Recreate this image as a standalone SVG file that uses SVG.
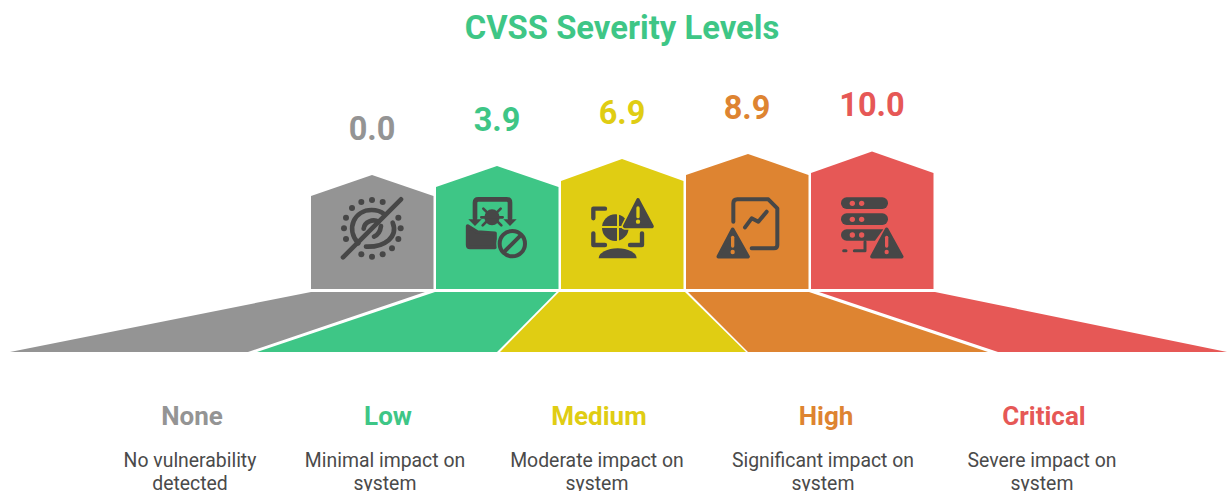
<svg xmlns="http://www.w3.org/2000/svg" width="1227" height="491" viewBox="0 0 1227 491">
<style>
text{font-family:Roboto,"Liberation Sans",sans-serif;text-anchor:middle}
.title{font-size:32.800px;font-weight:700}
.val{font-size:32.500px;font-weight:700}
.name{font-size:26px;font-weight:700}
.desc{font-size:19.400px;fill:#4a4a4a}
.gray{fill:#949494}.green{fill:#3ec686}.yellow{fill:#e0cd13}.orange{fill:#de8431}.red{fill:#e65856}
.ic{fill:none;stroke:#474747;stroke-width:12;stroke-linecap:round;stroke-linejoin:round}
.if{fill:#474747;stroke:#474747;stroke-width:11;stroke-linejoin:round}
.fl{fill:#474747}
</style>
<rect width="1227" height="491" fill="#fff"/>
<text class="title green" x="622" y="39">CVSS Severity Levels</text>
<g id="none">
<text class="val gray" x="372" y="140">0.0</text>
<polygon class="gray" points="311,196 372,175 433.500,196 433.500,289 311,289"/>
<polygon class="gray" points="311,292 425,292 248,352 10,352"/>
<g transform="translate(300 150) scale(.33333)">
<g class="fl"><circle cx="216" cy="150" r="9"/><circle cx="248" cy="156" r="9"/><circle cx="184" cy="156" r="9"/><circle cx="156" cy="174" r="9"/><circle cx="138" cy="203" r="9"/><circle cx="132" cy="235" r="9"/><circle cx="138" cy="267" r="9"/><circle cx="184" cy="313" r="9"/><circle cx="216" cy="320" r="9"/><circle cx="248" cy="313" r="9"/><circle cx="276" cy="295" r="9"/><circle cx="295" cy="267" r="9"/><circle cx="302" cy="235" r="9"/><circle cx="295" cy="203" r="9"/></g>
<path class="ic" style="stroke-width:14" d="M129 322 303 148"/>
<path class="ic" style="stroke-width:14" d="M175 280C135 235 165 180 215 180Q238 180 252 192"/>
<path class="ic" style="stroke-width:14" d="M278 218C295 260 255 292 198 290"/>
<path class="ic" style="stroke-width:14" d="M191 236C193 215 220 205 236 216"/>
<path class="ic" style="stroke-width:14" d="M222 260Q240 252 243 228"/>
</g>
<text class="name gray" x="192" y="425">None</text>
<text class="desc" x="190" y="467">No vulnerability</text>
<text class="desc" x="190" y="490">detected</text>
</g>
<g id="low">
<text class="val green" x="497" y="131">3.9</text>
<polygon class="green" points="436,187 497,166 558.500,187 558.500,289 436,289"/>
<polygon class="green" points="435,292 556.500,292 497,352 257,352"/>
<g transform="translate(300 150) scale(.33333)">
<path class="ic" style="stroke-width:14" d="M525 205V158Q525 148 535 148H620Q630 148 630 158V205"/>
<path class="fl" d="M505 208H545L525 228ZM610 208H650L630 228Z"/>
<path class="if" d="M503 228 532 246 585 250V292H510Q503 292 503 285Z"/>
<ellipse class="fl" cx="576" cy="202" rx="23" ry="24"/>
<path class="ic" style="stroke-width:8" d="M550 176 562 188M602 176 590 188M544 202H608M548 226 560 214M604 226 592 214"/>
<circle cx="637" cy="281" r="48" fill="#3ec686"/>
<circle class="ic" cx="637" cy="281" r="38"/>
<path class="ic" d="M615 303 659 259"/>
</g>
<text class="name green" x="388" y="425">Low</text>
<text class="desc" x="385" y="467">Minimal impact on</text>
<text class="desc" x="385" y="490">system</text>
</g>
<g id="medium">
<text class="val yellow" x="622" y="124">6.9</text>
<polygon class="yellow" points="561,181 622,159 683.500,181 683.500,289 561,289"/>
<polygon class="yellow" points="559,292 685,292 746,352 500,352"/>
<g transform="translate(550 150) scale(.33333)">
<path class="ic" style="stroke-width:13" d="M165 176H130V205M130 250V285H165M240 285H276V250"/>
<circle class="fl" cx="196" cy="233" r="40"/>
<path d="M150 231H245M204 185V280" stroke="#e0cd13" stroke-width="6" fill="none"/>
<path class="if" style="stroke:#e0cd13;stroke-width:20" d="M264 150 306 229H224Z"/>
<path class="if" d="M264 150 306 229H224Z"/>
<path d="M264 174V200" stroke="#e0cd13" stroke-width="10" stroke-linecap="round"/>
<circle cx="264" cy="215" r="6.500" fill="#e0cd13"/>
<path class="fl" d="M146 325A56 30 0 0 1 260 325Z"/>
</g>
<text class="name yellow" x="599" y="425">Medium</text>
<text class="desc" x="597" y="467">Moderate impact on</text>
<text class="desc" x="597" y="490">system</text>
</g>
<g id="high">
<text class="val orange" x="747" y="119">8.9</text>
<polygon class="orange" points="686,175 748,154 808.500,175 808.500,289 686,289"/>
<polygon class="orange" points="688,292 809,292 988,352 748,352"/>
<g transform="translate(550 150) scale(.33333)">
<path class="ic" d="M550 215V160Q550 148 562 148H655L682 175V285Q682 295 672 295H605"/>
<path class="ic" d="M585 232 605 205 625 215 650 185"/>
<path class="if" d="M548 238 594 320H505Z"/>
<path d="M548 262V288" stroke="#de8431" stroke-width="10" stroke-linecap="round"/>
<circle cx="548" cy="306" r="6.500" fill="#de8431"/>
</g>
<text class="name orange" x="826" y="425">High</text>
<text class="desc" x="823" y="467">Significant impact on</text>
<text class="desc" x="823" y="490">system</text>
</g>
<g id="critical">
<text class="val red" x="872" y="116">10.0</text>
<polygon class="red" points="811,173 872,151.500 933.500,173 933.500,289 811,289"/>
<polygon class="red" points="819,292 935,292 1227,352 998,352"/>
<g transform="translate(550 150) scale(.33333)">
<rect class="fl" x="873" y="142" width="141" height="35" rx="17"/>
<rect class="fl" x="873" y="190" width="141" height="35" rx="17"/>
<path class="fl" d="M890 238H1000L975 272H890A17 17 0 0 1 890 238Z"/>
<g fill="#e65856"><circle cx="907" cy="160" r="8"/><circle cx="935" cy="160" r="8"/><circle cx="907" cy="208" r="8"/><circle cx="935" cy="208" r="8"/><circle cx="907" cy="255" r="8"/><circle cx="935" cy="255" r="8"/></g>
<path class="ic" style="stroke-width:9" d="M881 302H888M913 302H945V275"/>
<path class="if" d="M1010 238 1055 320H966Z"/>
<path d="M1010 262V288" stroke="#e65856" stroke-width="10" stroke-linecap="round"/>
<circle cx="1010" cy="306" r="6.500" fill="#e65856"/>
</g>
<text class="name red" x="1044" y="425">Critical</text>
<text class="desc" x="1042" y="467">Severe impact on</text>
<text class="desc" x="1042" y="490">system</text>
</g>
</svg>
